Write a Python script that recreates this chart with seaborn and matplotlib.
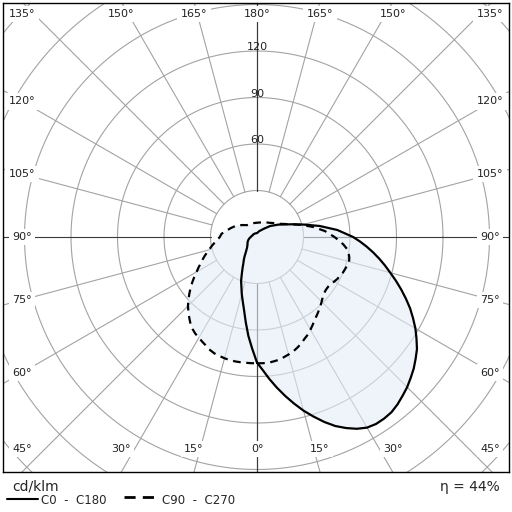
import numpy as np
import pandas as pd
import matplotlib
matplotlib.use('Agg')
import matplotlib.pyplot as plt
import seaborn as sns

# gamma angles (deg, 0 = straight down) and intensities in cd/klm
gamma = [0, 2.5, 5, 7.5, 10, 12.5, 15, 17.5, 20, 22.5, 25, 27.5, 30, 32.5, 35, 37.5,
         40, 42.5, 45, 47.5, 50, 52.5, 55, 57.5, 60, 62.5, 65, 67.5, 70, 72.5, 75, 77.5,
         80, 82.5, 85, 87.5, 90, 95, 100, 105, 110, 120, 130, 140, 150, 160, 170, 180]
c0 = [81, 86, 92, 98, 104, 110, 116, 121.5, 127, 132, 136, 139.5, 142, 143, 143, 142.5,
      141, 139, 137, 134.5, 132, 129, 126, 122, 118, 113.5, 109, 104, 99, 94, 89, 84.5,
      80, 75.5, 71, 66.5, 62, 52, 41, 31, 24, 16, 11, 7, 5, 4, 3, 2.5]
c180 = [81, 72, 64, 55.5, 48, 42.5, 38, 33.5, 30, 25.5, 22, 19, 17, 15, 13, 11.5,
        10.5, 9.5, 9, 8.5, 8, 7.8, 7.5, 7.2, 7, 6.8, 6.5, 6.2, 6, 5.8, 5.5, 5.2,
        5, 4.8, 4.5, 4.2, 4, 3.8, 3.5, 3.3, 3, 3, 2.8, 2.7, 2.6, 2.5, 2.5, 2.5]
c90 = [81.5, 81.5, 81.5, 81, 80.5, 79.5, 78.5, 77.5, 76, 74.5, 72.5, 71, 69, 67, 65, 63.5,
       62, 60.5, 59, 57.5, 56.5, 56, 56, 56.5, 57.5, 58.5, 59, 60, 60.5, 61, 61.5, 61,
       60, 58.5, 56, 53, 50, 44, 37, 30, 24, 17, 14, 12, 11, 10, 9.5, 9.2]
c270 = [81.5, 81.5, 81.5, 81.5, 81.5, 81.3, 81, 80.5, 80, 79, 77.5, 76.3, 75, 74, 72.5, 70.5,
        68, 65.5, 63, 60, 57, 54, 51, 48, 45, 42.5, 40, 38, 36, 34, 32, 30.5,
        29, 27.5, 26, 25, 24, 23, 21, 19, 17.5, 15, 12, 10, 9.5, 9.3, 9.2, 9.2]

ring_values = [30, 60, 90, 120, 150, 180, 210, 240]
ring_labels = [60, 90, 120]
angle_ticks = list(range(0, 181, 15))
eta_text = "η = 44%"


def closed_curve(right, left):
    g = np.radians(gamma)
    r1 = np.array(right, dtype=float)
    r2 = np.array(left, dtype=float)
    x = np.concatenate([r1 * np.sin(g), -(r2 * np.sin(g))[::-1]])
    y = np.concatenate([-r1 * np.cos(g), (-r2 * np.cos(g))[::-1]])
    return pd.DataFrame({'x': x, 'y': y, 'i': np.arange(len(x))})


sns.set_style('white')
plt.rcParams['font.family'] = ['DejaVu Sans']

S = 1.55          # pixels per cd/klm
CX, CY = 257, 237  # centre in pixels

fig = plt.figure(figsize=(5.12, 5.12), dpi=100)
ax = fig.add_axes([3 / 512, 40 / 512, 506 / 512, 469 / 512])
ax.set_xlim((3 - CX) / S, (509 - CX) / S)
ax.set_ylim(-(472 - CY) / S, (CY - 3) / S)

# grid circles
t = np.linspace(0, 2 * np.pi, 500)
for r in ring_values:
    ax.plot(r * np.cos(t), r * np.sin(t), color='#a3a3a3', lw=0.8, zorder=1)

# radial lines
for a in angle_ticks:
    for side in (1, -1):
        dx, dy = side * np.sin(np.radians(a)), -np.cos(np.radians(a))
        col = '#3a3a3a' if a in (0, 90, 180) else '#a3a3a3'
        ax.plot([30 * dx, 400 * dx], [30 * dy, 400 * dy], color=col, lw=0.8, zorder=1)

# filled union of both curves
fill = closed_curve(np.maximum(c0, c90), np.maximum(c180, c270))
ax.fill(fill['x'], fill['y'], color='#e3edf8', alpha=0.6, lw=0, zorder=2)

solid = closed_curve(c0, c180)
dashed = closed_curve(c90, c270)
sns.lineplot(data=solid, x='x', y='y', sort=False, estimator=None, color='black',
             lw=1.6, ax=ax, zorder=3, solid_joinstyle='round')
sns.lineplot(data=dashed, x='x', y='y', sort=False, estimator=None, color='black',
             lw=1.6, linestyle=(0, (3.5, 2.5)), ax=ax, zorder=3)

# ring labels
for r in ring_labels:
    ax.text(0, r + 2.5, str(r), ha='center', va='center', fontsize=8, color='#222222', zorder=4)

# angle labels around the frame
half = 235 / S
for a in angle_ticks:
    sides = (1,) if a in (0, 180) else (1, -1)
    for side in sides:
        dx, dy = side * np.sin(np.radians(a)), -np.cos(np.radians(a))
        k = half / max(abs(dx), abs(dy))
        px = np.clip(dx * k, (22 - CX) / S, (490 - CX) / S)
        py = np.clip(dy * k, -(449 - CY) / S, (CY - 14) / S)
        ax.text(px, py, f"{a}°", ha='center', va='center', fontsize=8, color='#222222',
                zorder=4, bbox=dict(boxstyle='square,pad=0.3', fc='white', ec='none'))

ax.set_xticks([])
ax.set_yticks([])
ax.set_xlabel('')
ax.set_ylabel('')
for s in ax.spines.values():
    s.set_color('black')
    s.set_linewidth(1)
    s.set_visible(True)

# footer with units and legend
leg = fig.add_axes([0, 0, 1, 40 / 512])
leg.set_xlim(0, 512)
leg.set_ylim(512, 472)
leg.axis('off')
leg.text(12, 487, 'cd/klm', fontsize=10, va='center', ha='left')
leg.plot([7, 38], [499, 499], color='black', lw=1.5)
leg.text(41, 500, 'C0  -  C180', fontsize=8.5, va='center', ha='left')
leg.plot([124, 155], [497, 497], color='black', lw=2, linestyle=(0, (4, 2.6)))
leg.text(162, 500, 'C90  -  C270', fontsize=8.5, va='center', ha='left')
leg.text(500, 487, eta_text, fontsize=10, va='center', ha='right')

fig.savefig('out.png', dpi=100)
